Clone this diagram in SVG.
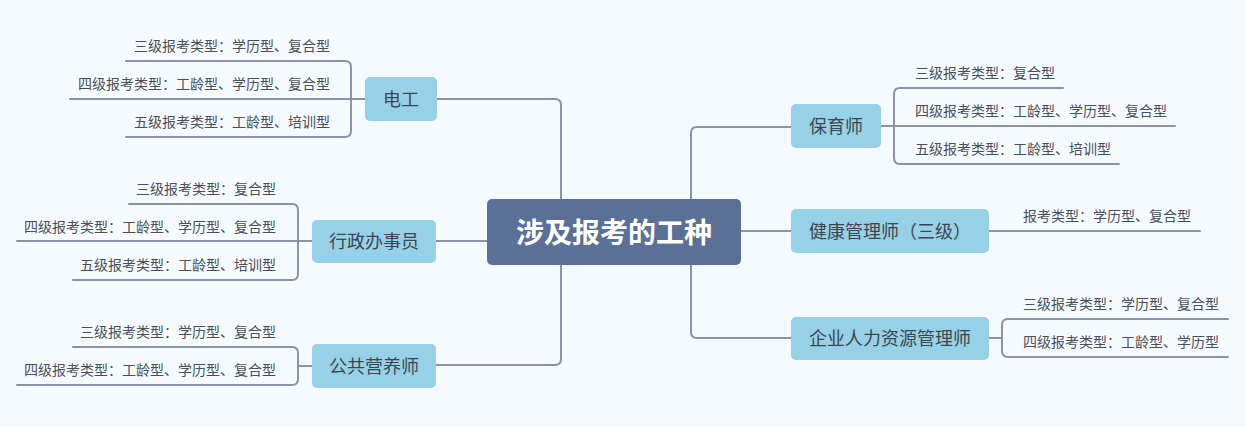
<svg xmlns="http://www.w3.org/2000/svg" width="1246" height="427" viewBox="0 0 1246 427">
<style>
.ln{fill:none;stroke:#8a93a7;stroke-width:2;stroke-linecap:round}
.nd{fill:#96d1e7}
.nt{font-family:"Noto Sans CJK SC","Microsoft YaHei",sans-serif;font-size:18px;fill:#3d4650;text-anchor:middle}
.lb{font-family:"Noto Sans CJK SC","Microsoft YaHei",sans-serif;font-size:14px;fill:#4a4f57}
.l{text-anchor:end}
.ct{font-family:"Noto Sans CJK SC","Microsoft YaHei",sans-serif;font-size:28px;font-weight:bold;fill:#ffffff;text-anchor:middle}
</style>
<rect x="0" y="0" width="1246" height="427" fill="#f5faff"/>
<g id="connectors">
<path class="ln" d="M561,199 V105 Q561,99 555,99 H437"/>
<path class="ln" d="M487,241 H436"/>
<path class="ln" d="M561,265 V359 Q561,365 555,365 H436"/>
<path class="ln" d="M691,199 V133 Q691,127 697,127 H791"/>
<path class="ln" d="M741,231 H791"/>
<path class="ln" d="M691,265 V332 Q691,338 697,338 H791"/>
<!-- 电工 -->
<path class="ln" d="M126,61 H345 Q351,61 351,67 V131 Q351,137 345,137 H126"/>
<path class="ln" d="M70,99 H365"/>
<!-- 行政办事员 -->
<path class="ln" d="M129,204 H292 Q298,204 298,210 V274 Q298,280 292,280 H73"/>
<path class="ln" d="M17,241 H312"/>
<!-- 公共营养师 -->
<path class="ln" d="M73,347 H292 Q298,347 298,353 V379 Q298,385 292,385 H17"/>
<path class="ln" d="M298,366 H312"/>
<!-- 保育师 -->
<path class="ln" d="M1063,88 H900 Q894,88 894,94 V158 Q894,164 900,164 H1119"/>
<path class="ln" d="M881,126 H1175"/>
<!-- 健康管理师 -->
<path class="ln" d="M989,231 H1200"/>
<!-- 企业人力资源管理师 -->
<path class="ln" d="M1228,319 H1008 Q1002,319 1002,325 V351 Q1002,357 1008,357 H1228"/>
<path class="ln" d="M989,338 H1002"/>
</g>
<g id="center">
<rect x="487" y="199" width="254" height="66" rx="5" fill="#5a7096"/>
<text class="ct" x="614" y="242.5">涉及报考的工种</text>
</g>
<g id="diangong">
<rect class="nd" x="365" y="77" width="72" height="44" rx="5"/>
<text class="nt" x="401" y="105.5">电工</text>
<text class="lb l" x="330" y="51">三级报考类型：学历型、复合型</text>
<text class="lb l" x="330" y="89">四级报考类型：工龄型、学历型、复合型</text>
<text class="lb l" x="330" y="127">五级报考类型：工龄型、培训型</text>
</g>
<g id="xingzheng">
<rect class="nd" x="312" y="220" width="124" height="43" rx="5"/>
<text class="nt" x="374" y="248">行政办事员</text>
<text class="lb l" x="276" y="194">三级报考类型：复合型</text>
<text class="lb l" x="276" y="231.5">四级报考类型：工龄型、学历型、复合型</text>
<text class="lb l" x="276" y="269.5">五级报考类型：工龄型、培训型</text>
</g>
<g id="yingyang">
<rect class="nd" x="312" y="344" width="124" height="44" rx="5"/>
<text class="nt" x="374" y="372.5">公共营养师</text>
<text class="lb l" x="276" y="336.5">三级报考类型：学历型、复合型</text>
<text class="lb l" x="276" y="374.5">四级报考类型：工龄型、学历型、复合型</text>
</g>
<g id="baoyu">
<rect class="nd" x="791" y="104" width="90" height="44" rx="5"/>
<text class="nt" x="836" y="132.5">保育师</text>
<text class="lb" x="915" y="77.5">三级报考类型：复合型</text>
<text class="lb" x="915" y="115.5">四级报考类型：工龄型、学历型、复合型</text>
<text class="lb" x="915" y="153.5">五级报考类型：工龄型、培训型</text>
</g>
<g id="jiankang">
<rect class="nd" x="791" y="209" width="198" height="44" rx="5"/>
<text class="nt" x="890" y="237.5">健康管理师（三级）</text>
<text class="lb" x="1023" y="221">报考类型：学历型、复合型</text>
</g>
<g id="renli">
<rect class="nd" x="791" y="317" width="198" height="43" rx="5"/>
<text class="nt" x="890" y="345">企业人力资源管理师</text>
<text class="lb" x="1023" y="309">三级报考类型：学历型、复合型</text>
<text class="lb" x="1023" y="347">四级报考类型：工龄型、学历型</text>
</g>
</svg>
